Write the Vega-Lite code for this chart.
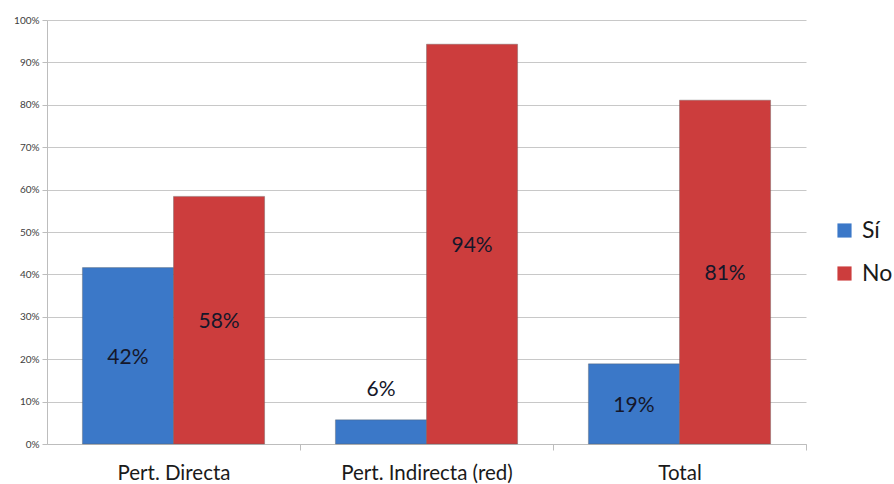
{
  "$schema": "https://vega.github.io/schema/vega-lite/v6.json",
  "width": 759,
  "height": 424,
  "autosize": {"type": "none"},
  "padding": {"left": 47, "top": 20, "right": 88, "bottom": 40},
  "background": "white",
  "config": {
    "font": "Lato",
    "view": {"stroke": null}
  },
  "data": {
    "values": [
      {"grupo": "Pert. Directa", "respuesta": "Sí", "valor": 0.416},
      {"grupo": "Pert. Directa", "respuesta": "No", "valor": 0.584},
      {"grupo": "Pert. Indirecta (red)", "respuesta": "Sí", "valor": 0.057},
      {"grupo": "Pert. Indirecta (red)", "respuesta": "No", "valor": 0.943},
      {"grupo": "Total", "respuesta": "Sí", "valor": 0.189},
      {"grupo": "Total", "respuesta": "No", "valor": 0.811}
    ]
  },
  "transform": [
    {"calculate": "datum.valor < 0.1 ? datum.valor + 0.075 : datum.valor / 2", "as": "labelY"}
  ],
  "encoding": {
    "x": {
      "field": "grupo",
      "type": "nominal",
      "sort": null,
      "title": null,
      "scale": {"paddingInner": 0.28, "paddingOuter": 0.14},
      "axis": {
        "labelAngle": 0,
        "labelFontSize": 20.5,
        "labelColor": "#1a1a1a",
        "labelPadding": 13,
        "domainColor": "#bdbdbd",
        "tickColor": "#bdbdbd",
        "tickSize": 6,
        "tickOffset": 126.5,
        "labelOffset": -126.5
      }
    },
    "xOffset": {
      "field": "respuesta",
      "type": "nominal",
      "sort": ["Sí", "No"],
      "scale": {"paddingInner": 0, "paddingOuter": 0}
    }
  },
  "layer": [
    {
      "mark": {"type": "bar", "stroke": "#5a5a5a", "strokeOpacity": 0.35, "strokeWidth": 1},
      "encoding": {
        "y": {
          "field": "valor",
          "type": "quantitative",
          "title": null,
          "scale": {"domain": [0, 1], "nice": false},
          "axis": {
            "format": ".0%",
            "values": [0, 0.1, 0.2, 0.3, 0.4, 0.5, 0.6, 0.7, 0.8, 0.9, 1],
            "labelFontSize": 10,
            "labelColor": "#404040",
            "gridColor": "#c8c8c8",
            "domainColor": "#bdbdbd",
            "tickColor": "#bdbdbd",
            "tickSize": 5,
            "labelPadding": 3
          }
        },
        "color": {
          "field": "respuesta",
          "type": "nominal",
          "sort": ["Sí", "No"],
          "scale": {"domain": ["Sí", "No"], "range": ["#3b78c8", "#cc3d3d"]},
          "legend": {
            "title": null,
            "orient": "none",
            "legendX": 786,
            "legendY": 199,
            "symbolType": "square",
            "symbolSize": 200,
            "symbolStrokeWidth": 0,
            "labelFontSize": 23,
            "labelColor": "#1a1a1a",
            "rowPadding": 19,
            "labelOffset": 6
          }
        }
      }
    },
    {
      "mark": {"type": "text", "fontSize": 21, "color": "#15172a", "dy": 2},
      "encoding": {
        "y": {"field": "labelY", "type": "quantitative"},
        "text": {"field": "valor", "type": "quantitative", "format": ".0%"}
      }
    }
  ]
}
